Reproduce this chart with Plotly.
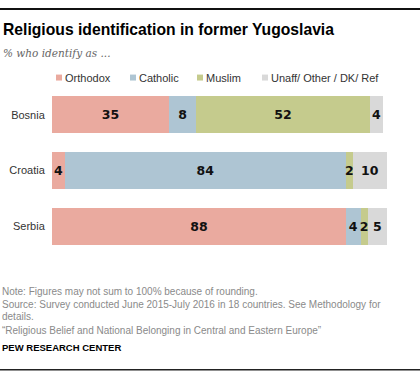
import plotly.graph_objects as go

countries = ["Bosnia", "Croatia", "Serbia"]
series_names = ["Orthodox", "Catholic", "Muslim", "Unaff/ Other / DK/ Ref"]
orthodox = [34.9, 3.9, 87.8]
catholic = [8.1, 83.8, 4.3]
muslim = [51.9, 2.1, 2.2]
unaff = [3.9, 10.2, 5.7]
orthodox_lbl = ["35", "4", "88"]
catholic_lbl = ["8", "84", "4"]
muslim_lbl = ["52", "2", "2"]
unaff_lbl = ["4", "10", "5"]
colors = ["#EAAA9F", "#AEC5D3", "#C5CB8D", "#D9D9D9"]

W, H = 420, 379
ML, MR, MT, MB = 52, 33, 86.5, 124.5
PW, PH = W - ML - MR, H - MT - MB

def px_x(x):
    return (x - ML) / PW

def px_y(y):
    return (H - MB - y) / PH

fig = go.Figure()
for name, vals, lbls, col in zip(series_names, [orthodox, catholic, muslim, unaff],
                                  [orthodox_lbl, catholic_lbl, muslim_lbl, unaff_lbl], colors):
    fig.add_trace(go.Bar(
        y=countries, x=vals, name=name, orientation="h",
        marker=dict(color=col, line=dict(width=0)),
        text=lbls, textposition="inside", insidetextanchor="middle",
        textfont=dict(family="DejaVu Sans", size=12.5, color="#111111", weight="bold"),
        showlegend=False, hoverinfo="skip",
    ))

font_main = "Liberation Sans"
annotations = []
shapes = []

# Title and subtitle
annotations.append(dict(text="<b>Religious identification in former Yugoslavia</b>",
                        x=px_x(1), y=px_y(29), xref="paper", yref="paper",
                        xanchor="left", yanchor="middle", showarrow=False,
                        font=dict(family=font_main, size=15.7, color="#000000")))
annotations.append(dict(text="<i>% who identify as ...</i>",
                        x=px_x(1), y=px_y(52), xref="paper", yref="paper",
                        xanchor="left", yanchor="middle", showarrow=False,
                        font=dict(family="DejaVu Serif", size=10.5, color="#666666")))

# Legend
legend_pos = [56, 130, 197, 262]
for name, col, lx in zip(series_names, colors, legend_pos):
    shapes.append(dict(type="rect", xref="paper", yref="paper",
                       x0=px_x(lx), x1=px_x(lx + 6), y0=px_y(80), y1=px_y(74),
                       fillcolor=col, line=dict(width=0)))
    annotations.append(dict(text=name, x=px_x(lx + 7), y=px_y(77), xref="paper", yref="paper",
                            xanchor="left", yanchor="middle", showarrow=False,
                            font=dict(family=font_main, size=11, color="#333333")))

# Footer
foot_color = "#8A8A8A"
footer = [
    ("Note: Figures may not sum to 100% because of rounding.", 292),
    ("Source: Survey conducted June 2015-July 2016 in 18 countries. See Methodology for", 305),
    ("details.", 317),
    ("\u201cReligious Belief and National Belonging in Central and Eastern Europe\u201d", 331),
]
for txt, yy in footer:
    annotations.append(dict(text=txt, x=px_x(0), y=px_y(yy), xref="paper", yref="paper",
                            xanchor="left", yanchor="middle", showarrow=False,
                            font=dict(family=font_main, size=10, color=foot_color)))
annotations.append(dict(text="<b>PEW RESEARCH CENTER</b>", x=px_x(0), y=px_y(349),
                        xref="paper", yref="paper", xanchor="left", yanchor="middle",
                        showarrow=False, font=dict(family=font_main, size=9.5, color="#000000")))

# Rules
shapes.append(dict(type="line", xref="paper", yref="paper", x0=px_x(0), x1=px_x(W),
                   y0=px_y(8), y1=px_y(8), line=dict(color="#111111", width=2)))
shapes.append(dict(type="line", xref="paper", yref="paper", x0=px_x(0), x1=px_x(W),
                   y0=px_y(371), y1=px_y(371), line=dict(color="#222222", width=1.5)))

fig.update_layout(
    width=W, height=H,
    margin=dict(l=ML, r=MR, t=MT, b=MB, pad=0),
    barmode="stack", bargap=0.339,
    plot_bgcolor="white", paper_bgcolor="white",
    xaxis=dict(range=[0, 100], visible=False, fixedrange=True),
    yaxis=dict(categoryorder="array", categoryarray=countries, autorange="reversed",
               showgrid=False, zeroline=False, showline=False, automargin=False,
               fixedrange=True,
               ticks="outside", ticklen=4, tickcolor="rgba(0,0,0,0)",
               tickfont=dict(family=font_main, size=11, color="#333333")),
    uniformtext=dict(mode="show", minsize=12.5),
    annotations=annotations, shapes=shapes,
)

fig.write_html("out.html", config={"displayModeBar": False},
               post_script="document.body.style.margin='0';")
